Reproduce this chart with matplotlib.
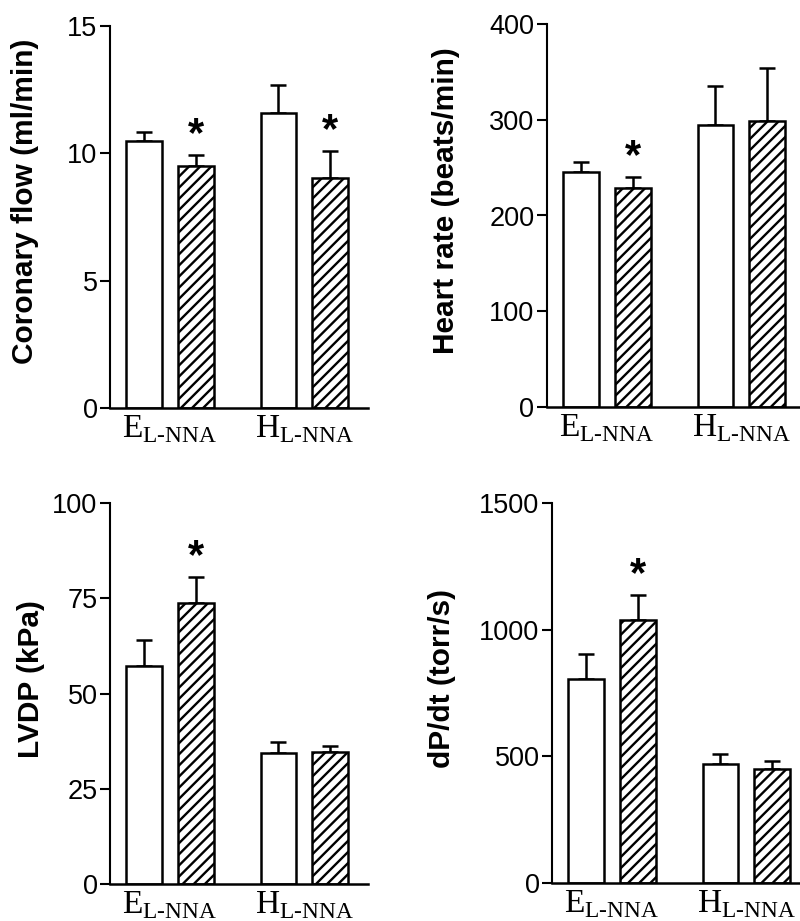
import matplotlib
matplotlib.use("Agg")
import matplotlib.pyplot as plt
import numpy as np

# === Data ===
groups = ["E", "H"]

flow_mean = [10.5, 9.5, 11.6, 9.05]
flow_err = [0.35, 0.45, 1.1, 1.05]

hr_mean = [245, 229, 294, 299]
hr_err = [11, 11, 41, 55]

lvdp_mean = [57.3, 73.7, 34.3, 34.6]
lvdp_err = [6.8, 6.9, 3.1, 1.7]

dpdt_mean = [804, 1040, 471, 449]
dpdt_err = [101, 96, 40, 32]

plt.rcParams['font.family'] = ['Liberation Sans', 'DejaVu Sans']
plt.rcParams['mathtext.fontset'] = 'custom'
plt.rcParams['mathtext.rm'] = 'Liberation Serif'
plt.rcParams['hatch.linewidth'] = 1.7

fig = plt.figure(figsize=(8, 9.21), dpi=100)
W, H = 800, 921

# panel geometry in pixels: (x_axis_left, y_top, y_bottom), ylabel position in axes coords
panels = [
    dict(box=(110, 26, 408), mean=flow_mean, err=flow_err, ymax=15, ticks=[0, 5, 10, 15],
         label="Coronary flow (ml/min)", star=[1, 3], lab=(-0.276, 0.542)),
    dict(box=(547, 24, 407), mean=hr_mean, err=hr_err, ymax=400, ticks=[0, 100, 200, 300, 400],
         label="Heart rate (beats/min)", star=[1], lab=(-0.338, 0.54)),
    dict(box=(110, 503, 884), mean=lvdp_mean, err=lvdp_err, ymax=100, ticks=[0, 25, 50, 75, 100],
         label="LVDP (kPa)", star=[1], lab=(-0.253, 0.539)),
    dict(box=(552, 503, 883), mean=dpdt_mean, err=dpdt_err, ymax=1500, ticks=[0, 500, 1000, 1500],
         label="dP/dt (torr/s)", star=[1], lab=(-0.373, 0.537)),
]

xpos = np.array([0.95, 2.4, 4.7, 6.15])
hatches = ["", "///", "", "///"]
axw = 258

for p in panels:
    x0, yt, yb = p["box"]
    ax = fig.add_axes([x0 / W, 1 - yb / H, axw / W, (yb - yt) / H])
    for i in range(4):
        ax.bar(xpos[i], p["mean"][i], width=1.0, color="white", edgecolor="black",
               linewidth=1.8, hatch=hatches[i], zorder=2)
        ax.errorbar(xpos[i], p["mean"][i], yerr=[[0], [p["err"][i]]], fmt="none",
                    ecolor="black", elinewidth=1.8, capsize=5.5, capthick=1.8, zorder=1)
    for i in p["star"]:
        top = p["mean"][i] + p["err"][i]
        ax.annotate("*", (xpos[i], top), xytext=(0, 0), textcoords="offset points",
                    ha="center", va="bottom", fontsize=30, fontweight="bold")
    ax.set_xlim(0, 7.2)
    ax.set_ylim(0, p["ymax"])
    ax.set_yticks(p["ticks"])
    ax.set_yticklabels([str(t) for t in p["ticks"]], fontsize=19.5)
    ax.set_xticks([(xpos[0] + xpos[1]) / 2, (xpos[2] + xpos[3]) / 2])
    ax.set_xticklabels([r"$\mathrm{%s}_{\mathrm{L\text{-}NNA}}$" % g for g in groups], fontsize=24)
    ax.tick_params(axis="x", length=0, pad=4)
    ax.tick_params(axis="y", direction="out", length=7, width=1.5, pad=2)
    for s in ["top", "right"]:
        ax.spines[s].set_visible(False)
    ax.spines["left"].set_linewidth(1.5)
    ax.spines["bottom"].set_linewidth(1.8)
    ax.set_ylabel(p["label"], fontsize=21.5, fontweight="bold")
    ax.yaxis.set_label_coords(*p["lab"])

fig.savefig("out.png", dpi=100)
